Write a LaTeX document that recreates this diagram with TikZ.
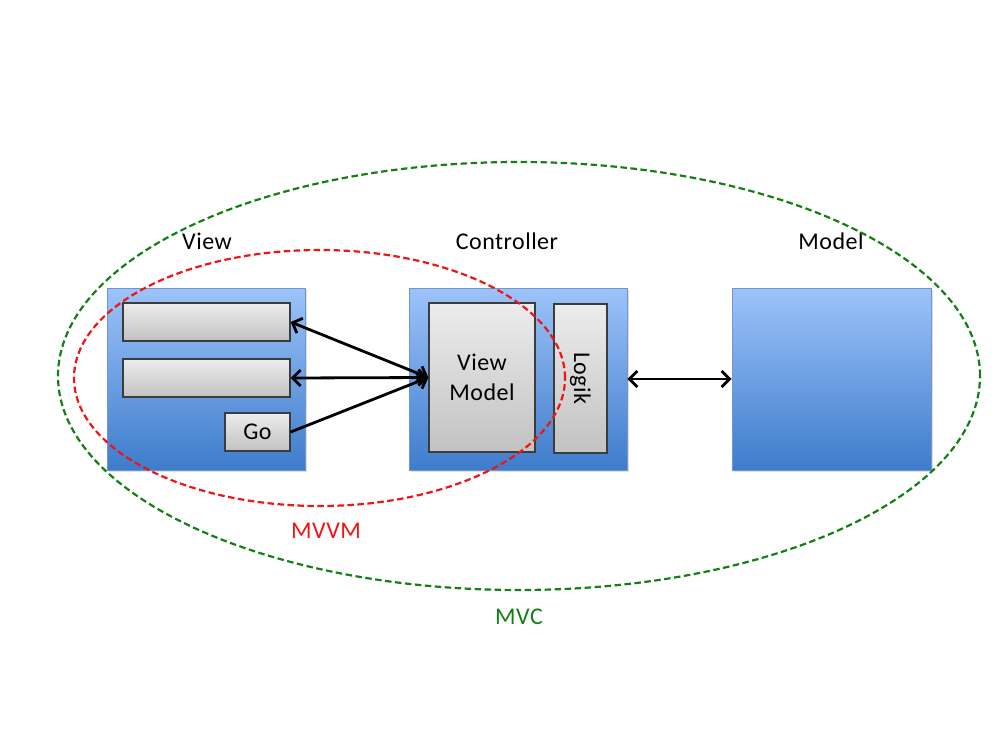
\documentclass[tikz,border=0pt]{standalone}
\usepackage{fontspec}
\setmainfont{Carlito}[LetterSpace=2]
\usetikzlibrary{arrows.meta,shapes.geometric,shadows}
\definecolor{btop}{RGB}{157,195,250}
\definecolor{bbot}{RGB}{62,124,203}
\definecolor{bedge}{RGB}{110,150,208}
\definecolor{gtop}{RGB}{236,236,236}
\definecolor{gbot}{RGB}{194,194,194}
\definecolor{gedge}{RGB}{60,60,60}
\definecolor{mvcgreen}{RGB}{20,128,20}
\definecolor{mvvmred}{RGB}{240,20,20}
\tikzset{
  bluebox/.style={rectangle, draw=bedge, line width=0.8pt, top color=btop, bottom color=bbot, inner sep=0pt,
     drop shadow={shadow xshift=1.5pt, shadow yshift=-1.5pt, opacity=0.25}},
  graybox/.style={rectangle, draw=gedge, line width=1.3pt, top color=gtop, bottom color=gbot, inner sep=0pt,
     font=\fontsize{24}{30}\selectfont, align=center},
  lbl/.style={font=\fontsize{24}{30}\selectfont, inner sep=0pt},
  conn/.style={line width=2.8pt, black, >={Straight Barb[length=8pt, width=16pt, line width=2.8pt]}},
  ring/.style={ellipse, line width=2.2pt, dash pattern=on 6.5pt off 3.5pt, inner sep=0pt}
}
\begin{document}
\begin{tikzpicture}[x=1pt,y=-1pt]
\useasboundingbox (0,0) rectangle (1000,750);
% boxes
\node[bluebox, minimum width=198pt, minimum height=182pt] (view) at (206,379) {};
\node[bluebox, minimum width=218pt, minimum height=182pt] (ctrl) at (518,379) {};
\node[bluebox, minimum width=199pt, minimum height=182pt] (model) at (831.5,379) {};
\node[graybox, minimum width=167pt, minimum height=38pt] (bar1) at (206.5,322) {};
\node[graybox, minimum width=167pt, minimum height=38pt] (bar2) at (206.5,378) {};
\node[graybox, minimum width=65pt, minimum height=38pt] (go) at (257.5,432) {Go};
\node[graybox, minimum width=106pt, minimum height=149pt] (vm) at (482,377.5) {View\\Model};
\node[graybox, minimum width=53pt, minimum height=149pt] (logik) at (580.5,378.5) {};
\node[lbl, rotate=-90] (logiktext) at (logik.center) {Logik};
% labels
\node[lbl] (lview) at (207,241) {View};
\node[lbl] (lctrl) at (507,241) {Controller};
\node[lbl] (lmodel) at (831,241) {Model};
\node[lbl, text=mvvmred] (lmvvm) at (326,531) {MVVM};
\node[lbl, text=mvcgreen] (lmvc) at (519,617) {MVC};
% ellipses
\node[ring, draw=mvcgreen, minimum width=922pt, minimum height=428pt] (mvc) at (519,376) {};
\node[ring, draw=mvvmred, minimum width=491pt, minimum height=256pt] (mvvm) at (319.5,378) {};
% connectors
\draw[conn, <->] (bar1.east) -- (vm.west);
\draw[conn, <->] (bar2.east) -- (vm.west);
\draw[conn, ->] (go.east) -- (vm.west);
\draw[conn, <->] (ctrl.east |- model.west) -- (model.west);
\end{tikzpicture}
\end{document}
